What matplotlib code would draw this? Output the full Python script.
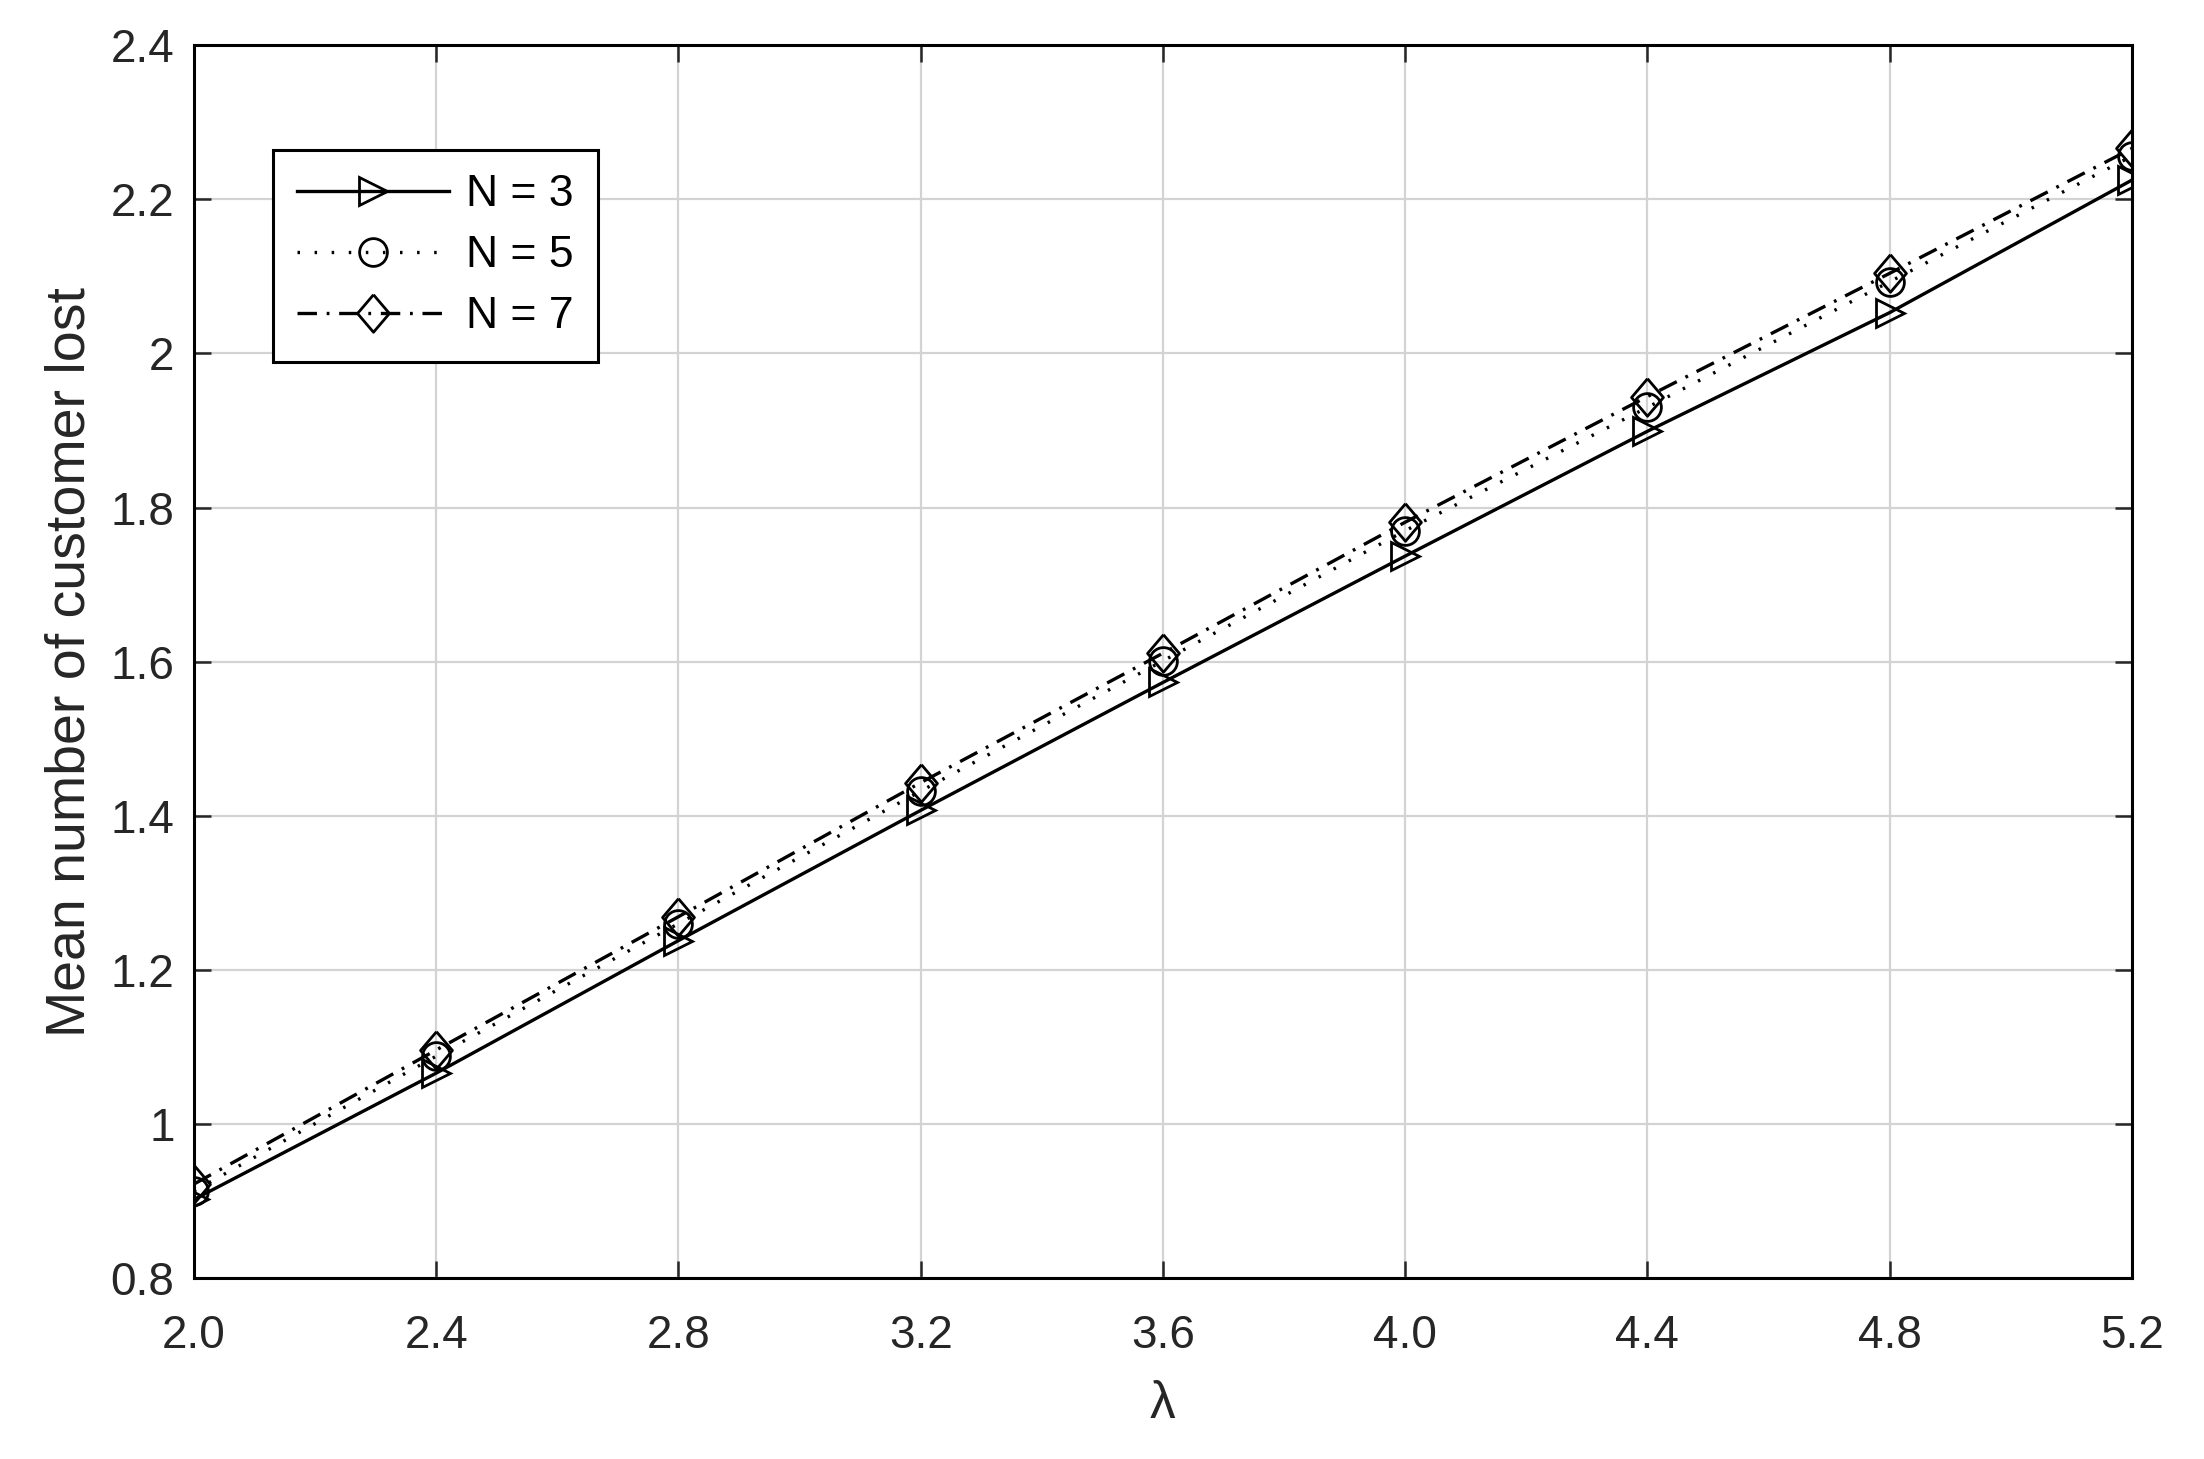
import matplotlib
matplotlib.use("Agg")
import matplotlib.pyplot as plt

lam = [2.0, 2.4, 2.8, 3.2, 3.6, 4.0, 4.4, 4.8, 5.2]
n3 = [0.902, 1.066, 1.238, 1.407, 1.573, 1.737, 1.899, 2.053, 2.225]
n5 = [0.913, 1.088, 1.260, 1.432, 1.601, 1.770, 1.930, 2.093, 2.256]
n7 = [0.922, 1.096, 1.269, 1.443, 1.611, 1.781, 1.944, 2.104, 2.266]
labels = ["N = 3", "N = 5", "N = 7"]

xticks = [2.0, 2.4, 2.8, 3.2, 3.6, 4.0, 4.4, 4.8, 5.2]
xticklabels = ["2.0", "2.4", "2.8", "3.2", "3.6", "4.0", "4.4", "4.8", "5.2"]
yticks = [0.8, 1.0, 1.2, 1.4, 1.6, 1.8, 2.0, 2.2, 2.4]
yticklabels = ["0.8", "1", "1.2", "1.4", "1.6", "1.8", "2", "2.2", "2.4"]

plt.rcParams["font.family"] = ["Liberation Sans", "DejaVu Sans"]
plt.rcParams["lines.scale_dashes"] = False

fig = plt.figure(figsize=(22.04, 14.59), dpi=100)
ax = fig.add_axes([0.088, 0.124, 0.8793, 0.845])

diamond = [(0, 1), (0.85, 0), (0, -1), (-0.85, 0), (0, 1)]

ax.plot(lam, n3, color="black", linestyle="-", linewidth=2.4,
        marker=">", markersize=20, markerfacecolor="none",
        markeredgewidth=2.0, label=labels[0])
ax.plot(lam, n5, color="black", linestyle=(0, (1.8, 10.5)), linewidth=2.4,
        marker="o", markersize=20, markerfacecolor="none",
        markeredgewidth=2.0, label=labels[1])
ax.plot(lam, n7, color="black", linestyle=(0, (14, 7, 2, 7)), linewidth=2.4,
        marker=diamond, markersize=27, markerfacecolor="none",
        markeredgewidth=2.0, label=labels[2])

ax.set_xlim(2.0, 5.2)
ax.set_ylim(0.8, 2.4)
ax.set_xticks(xticks)
ax.set_xticklabels(xticklabels)
ax.set_yticks(yticks)
ax.set_yticklabels(yticklabels)

ax.grid(True, color="#d3d3d3", linewidth=1.6)
ax.set_axisbelow(True)

ax.tick_params(direction="in", length=12, width=1.8, labelsize=33,
               colors="#262626", top=True, right=True)
ax.tick_params(axis="x", pad=26)
ax.tick_params(axis="y", pad=14)
for s in ax.spines.values():
    s.set_linewidth(2.2)
    s.set_color("black")

ax.set_xlabel("λ", fontsize=37, labelpad=16, color="#262626")
ax.set_ylabel("Mean number of customer lost", fontsize=40, labelpad=10,
              color="#262626")

leg = ax.legend(loc="upper left", bbox_to_anchor=(0.0408, 0.915),
                borderaxespad=0, fontsize=32, handlelength=3.4,
                handletextpad=0.4, labelspacing=0.45, borderpad=0.55,
                fancybox=False, framealpha=1, edgecolor="black")
leg.get_frame().set_linewidth(2.2)

fig.savefig("out.png", dpi=100, facecolor="white")
